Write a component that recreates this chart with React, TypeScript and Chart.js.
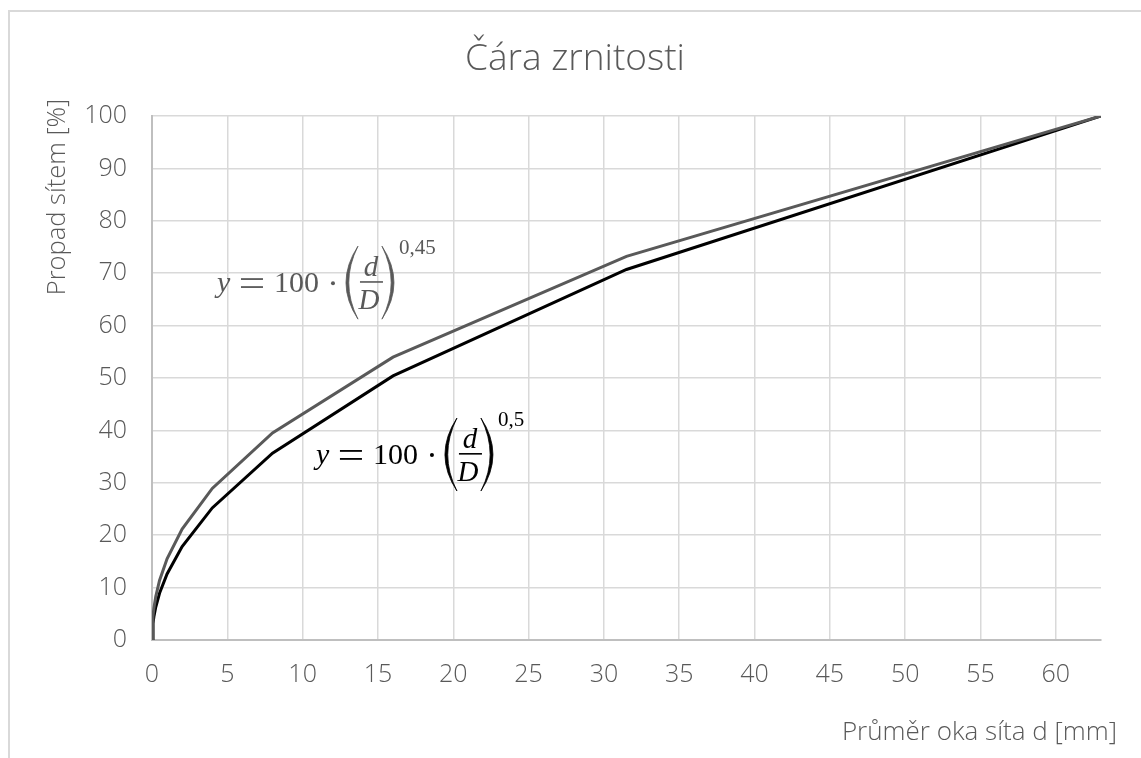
import React, { useEffect, useRef } from "react";
import { Chart, registerables } from "chart.js";

Chart.register(...registerables);

// ---- data ----
const sieveSizes = [0, 0.063, 0.125, 0.25, 0.5, 1, 2, 4, 8, 16, 31.5, 63];
const passingExp045 = [0, 4.47, 6.08, 8.31, 11.35, 15.5, 21.17, 28.92, 39.51, 53.97, 73.2, 100];
const passingExp05 = [0, 3.16, 4.45, 6.3, 8.91, 12.6, 17.82, 25.2, 35.64, 50.4, 70.71, 100];
const xTickValues = [0, 5, 10, 15, 20, 25, 30, 35, 40, 45, 50, 55, 60];
const yTickValues = [0, 10, 20, 30, 40, 50, 60, 70, 80, 90, 100];
const seriesNames = ["y = 100 · (d/D)^0,45", "y = 100 · (d/D)^0,5"];
const exponentLabels = ["0,45", "0,5"];
const chartTitle = "Čára zrnitosti";
const xAxisTitle = "Průměr oka síta d [mm]";
const yAxisTitle = "Propad sítem [%]";

const SANS = '"Open Sans", "Noto Sans", sans-serif';
const SERIF = '"Liberation Serif", "DejaVu Serif", serif';
const TEXT = "#595959";
const GRID = "#d9d9d9";
const AXIS = "#bfbfbf";
const SERIES_COLORS = ["#595959", "#000000"];

function paren(ctx: CanvasRenderingContext2D, xEnd: number, xMid: number, top: number, bot: number) {
  const mid = (top + bot) / 2;
  const dir = Math.sign(xEnd - xMid);
  const cOut = 2 * xMid - xEnd;
  const cIn = 2 * (xMid + dir * 2.8) - xEnd;
  ctx.beginPath();
  ctx.moveTo(xEnd, top);
  ctx.quadraticCurveTo(cOut, mid, xEnd, bot);
  ctx.quadraticCurveTo(cIn, mid, xEnd, top);
  ctx.closePath();
  ctx.fill();
  ctx.lineWidth = 0.8;
  ctx.stroke();
}

function drawFormula(ctx: CanvasRenderingContext2D, x0: number, cy: number, exp: string, color: string) {
  ctx.save();
  ctx.fillStyle = color;
  ctx.strokeStyle = color;
  ctx.textAlign = "left";
  ctx.textBaseline = "alphabetic";
  const base = cy + 9;
  ctx.font = `italic 30px ${SERIF}`;
  ctx.fillText("y", x0 - 1, base);
  // equals sign
  ctx.fillRect(x0 + 23, cy - 5, 22, 1.8);
  ctx.fillRect(x0 + 23, cy + 3, 22, 1.8);
  ctx.font = `30px ${SERIF}`;
  ctx.fillText("100", x0 + 56, base);
  // middle dot
  ctx.beginPath();
  ctx.arc(x0 + 115, cy, 2, 0, Math.PI * 2);
  ctx.fill();
  // parentheses
  paren(ctx, x0 + 140, x0 + 128, cy - 37, cy + 36);
  paren(ctx, x0 + 164, x0 + 176, cy - 37, cy + 36);
  // fraction
  ctx.textAlign = "center";
  ctx.font = `italic 29px ${SERIF}`;
  ctx.fillText("d", x0 + 153, cy - 7);
  ctx.fillRect(x0 + 142, cy - 2, 23, 1.6);
  ctx.fillText("D", x0 + 151, cy + 26);
  // exponent
  ctx.textAlign = "left";
  ctx.font = `21px ${SERIF}`;
  ctx.fillText(exp, x0 + 181, cy - 29);
  ctx.restore();
}

const decorPlugin = {
  id: "decor",
  beforeDraw(chart: any) {
    const ctx = chart.ctx as CanvasRenderingContext2D;
    ctx.save();
    ctx.strokeStyle = GRID;
    ctx.lineWidth = 2;
    ctx.strokeRect(9, 11, chart.width + 20, chart.height + 20);
    ctx.restore();
  },
  afterDraw(chart: any) {
    const ctx = chart.ctx as CanvasRenderingContext2D;
    const xs = chart.scales.x;
    const ys = chart.scales.y;
    ctx.save();
    ctx.fillStyle = TEXT;
    // title
    ctx.font = `300 37px ${SANS}`;
    ctx.textAlign = "center";
    ctx.textBaseline = "alphabetic";
    ctx.fillText(chartTitle, 575, 70);
    // x axis title
    ctx.font = `300 26px ${SANS}`;
    ctx.textAlign = "right";
    ctx.fillText(xAxisTitle, 1117, 740);
    // y axis title
    ctx.save();
    ctx.font = `300 25.5px ${SANS}`;
    ctx.translate(65, 197);
    ctx.rotate(-Math.PI / 2);
    ctx.textAlign = "center";
    ctx.fillText(yAxisTitle, 0, 0);
    ctx.restore();
    ctx.restore();
    // formulas anchored in data space
    drawFormula(ctx, xs.getPixelForValue(4.38), ys.getPixelForValue(68.1), exponentLabels[0], SERIES_COLORS[0]);
    drawFormula(ctx, xs.getPixelForValue(10.95), ys.getPixelForValue(35.3), exponentLabels[1], SERIES_COLORS[1]);
  },
};

export default function App() {
  const ref = useRef<HTMLCanvasElement | null>(null);
  useEffect(() => {
    const canvas = ref.current;
    if (!canvas) return;
    const toPoints = (ys: number[]) => sieveSizes.map((x, i) => ({ x, y: ys[i] }));
    const chart = new Chart(canvas, {
      type: "line",
      data: {
        datasets: [
          {
            label: seriesNames[0],
            data: toPoints(passingExp045),
            borderColor: SERIES_COLORS[0],
            backgroundColor: SERIES_COLORS[0],
            borderWidth: 3,
            pointRadius: 0,
            tension: 0,
          },
          {
            label: seriesNames[1],
            data: toPoints(passingExp05),
            borderColor: SERIES_COLORS[1],
            backgroundColor: SERIES_COLORS[1],
            borderWidth: 3,
            pointRadius: 0,
            tension: 0,
          },
        ],
      },
      options: {
        responsive: false,
        animation: false,
        devicePixelRatio: 1,
        layout: { padding: { left: 0, top: 116, right: 40, bottom: 0 } },
        plugins: { legend: { display: false }, title: { display: false }, tooltip: { enabled: false } },
        scales: {
          x: {
            type: "linear",
            min: 0,
            max: 63,
            afterBuildTicks: (s: any) => {
              s.ticks = xTickValues.map((v) => ({ value: v }));
            },
            afterFit: (s: any) => {
              s.height = 118;
            },
            grid: { color: GRID, lineWidth: 1.5, drawTicks: false },
            border: { color: AXIS, width: 2 },
            ticks: {
              color: TEXT,
              font: { family: SANS, size: 25, weight: "300" as any },
              padding: 20,
              maxRotation: 0,
              autoSkip: false,
            },
          },
          y: {
            type: "linear",
            min: 0,
            max: 100,
            afterBuildTicks: (s: any) => {
              s.ticks = yTickValues.map((v) => ({ value: v }));
            },
            afterFit: (s: any) => {
              s.width = 152;
            },
            grid: { color: GRID, lineWidth: 1.5, drawTicks: false },
            border: { color: AXIS, width: 2 },
            ticks: {
              color: TEXT,
              font: { family: SANS, size: 25, weight: "300" as any },
              padding: 25,
              autoSkip: false,
            },
          },
        },
      },
      plugins: [decorPlugin],
    });
    return () => chart.destroy();
  }, []);
  return (
    <canvas
      ref={ref}
      width={1141}
      height={758}
      style={{ position: "absolute", left: 0, top: 0, display: "block" }}
    />
  );
}
